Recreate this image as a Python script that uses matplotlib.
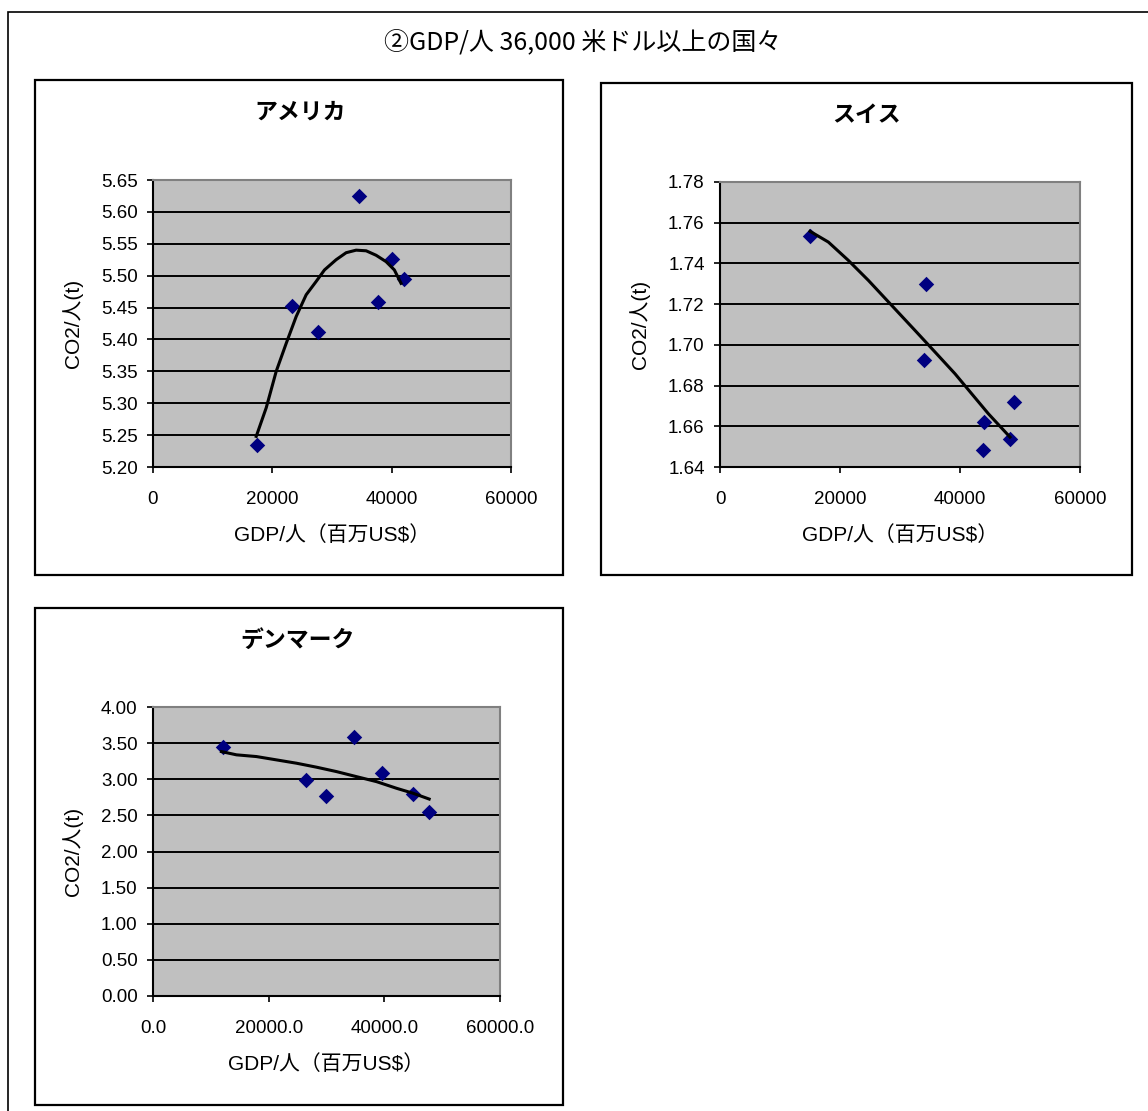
import numpy as np
import matplotlib
matplotlib.use("Agg")
import matplotlib.pyplot as plt
from matplotlib.patches import Rectangle
from matplotlib.ticker import FormatStrFormatter

plt.rcParams['font.family'] = ['Liberation Sans', 'Noto Sans CJK JP', 'DejaVu Sans']

W, H = 1148, 1111

title = "②GDP/人 36,000 米ドル以上の国々"
xlabel = "GDP/人（百万US$）"
ylabel = "CO2/人(t)"

# アメリカ
usa_gdp = [17500, 23250, 27700, 34500, 37700, 40000, 42000]
usa_co2 = [5.234, 5.452, 5.412, 5.625, 5.459, 5.526, 5.494]
# trend line
usa_trend_x = [17300, 18980, 20650, 22330, 24000, 25670, 27350, 28740, 30690,
               32370, 34040, 35720, 37390, 39060, 40450, 41570]
usa_trend_y = [5.248, 5.293, 5.350, 5.394, 5.436, 5.470, 5.491, 5.509, 5.525,
               5.536, 5.540, 5.539, 5.532, 5.522, 5.509, 5.488]

# スイス
che_gdp = [15000, 34400, 34050, 49050, 44050, 48330, 43780]
che_co2 = [1.7533, 1.7297, 1.6925, 1.6719, 1.6621, 1.6539, 1.6482]
che_trend_x = [15000, 18060, 21390, 24720, 28610, 32500, 35830, 39170, 41940,
               44720, 48330]
che_trend_y = [1.7558, 1.7505, 1.7415, 1.7317, 1.7194, 1.7071, 1.6965, 1.6858,
               1.6760, 1.6662, 1.6547]

# デンマーク
dnk_gdp = [12100, 26370, 29830, 34720, 39520, 44980, 47750]
dnk_co2 = [3.449, 2.990, 2.768, 3.583, 3.083, 2.796, 2.546]
dnk_trend_x = [11830, 14430, 17890, 21350, 24810, 28270, 31730, 35190, 38650,
               42110, 44980, 47750]
dnk_trend_y = [3.383, 3.338, 3.314, 3.268, 3.222, 3.167, 3.106, 3.036, 2.967,
               2.875, 2.806, 2.726]


def fx(px):
    return px / W


def fy(py):
    return 1 - py / H


def box(fig, x0, y0, x1, y1, lw=1.6):
    fig.patches.append(Rectangle((fx(x0), fy(y1)), fx(x1) - fx(x0), fy(y0) - fy(y1),
                                 transform=fig.transFigure, fill=False,
                                 edgecolor="black", linewidth=lw))


def panel(fig, rect_px, name, name_xy, gdp, co2, tx, ty, ylim, ystep, yfmt, xfmt):
    l, t, r, b = rect_px
    wpx, hpx = r - l, b - t
    ax = fig.add_axes([fx(l), fy(b), fx(r) - fx(l), fy(t) - fy(b)])
    ax.set_facecolor("#c0c0c0")
    ax.scatter(gdp, co2, marker="D", s=62, color="#000080", zorder=3, linewidths=0)
    ax.plot(tx, ty, color="black", lw=2.2, zorder=4, solid_joinstyle="round")
    ax.set_xlim(0, 60000)
    ax.set_ylim(*ylim)
    ax.set_xticks([0, 20000, 40000, 60000])
    ax.set_yticks(np.arange(ylim[0], ylim[1] + ystep / 2, ystep))
    ax.yaxis.set_major_formatter(FormatStrFormatter(yfmt))
    ax.xaxis.set_major_formatter(FormatStrFormatter(xfmt))
    ax.grid(axis="y", color="black", lw=1.4)
    ax.set_axisbelow(True)
    for s in ("top", "right"):
        ax.spines[s].set_color("#808080")
        ax.spines[s].set_linewidth(1.5)
    for s in ("left", "bottom"):
        ax.spines[s].set_color("black")
        ax.spines[s].set_linewidth(1.5)
    ax.tick_params(labelsize=13.5, length=4, width=1.2, colors="black")
    ax.tick_params(axis="x", pad=13)
    ax.tick_params(axis="y", pad=7)
    ax.set_xlabel(xlabel, fontsize=15, family=['Liberation Sans', 'Noto Sans CJK JP'])
    ax.set_ylabel(ylabel, fontsize=15, family=['Liberation Sans', 'Noto Sans CJK JP'])
    ax.xaxis.set_label_coords(0.5, -68 / hpx)
    ax.xaxis.label.set_va("center")
    ax.yaxis.set_label_coords(-80 / wpx, 0.5)
    ax.yaxis.label.set_va("center")
    fig.text(fx(name_xy[0]), fy(name_xy[1]), name, fontsize=16.5, fontweight="bold",
             family=['Noto Sans CJK JP'], ha="center", va="center")
    return ax


fig = plt.figure(figsize=(W / 100, H / 100), dpi=100)

# outer frame (runs past the right and bottom edges)
box(fig, 8, 12, 1160, 1125, lw=1.2)
fig.text(fx(583), fy(42), title, fontsize=18, family=['Noto Sans CJK JP'],
         ha="center", va="center")

box(fig, 35, 80, 563, 575)
box(fig, 601, 83, 1132, 575)
box(fig, 35, 608, 563, 1105)

panel(fig, (153, 180, 511, 467), "アメリカ", (300, 112), usa_gdp, usa_co2,
      usa_trend_x, usa_trend_y, (5.20, 5.65), 0.05, "%.2f", "%d")
panel(fig, (720, 182, 1080, 467), "スイス", (867, 115), che_gdp, che_co2,
      che_trend_x, che_trend_y, (1.64, 1.78), 0.02, "%.2f", "%d")
panel(fig, (153, 707, 500, 996), "デンマーク", (298, 640), dnk_gdp, dnk_co2,
      dnk_trend_x, dnk_trend_y, (0.0, 4.0), 0.5, "%.2f", "%.1f")

fig.savefig("out.png", dpi=100)
